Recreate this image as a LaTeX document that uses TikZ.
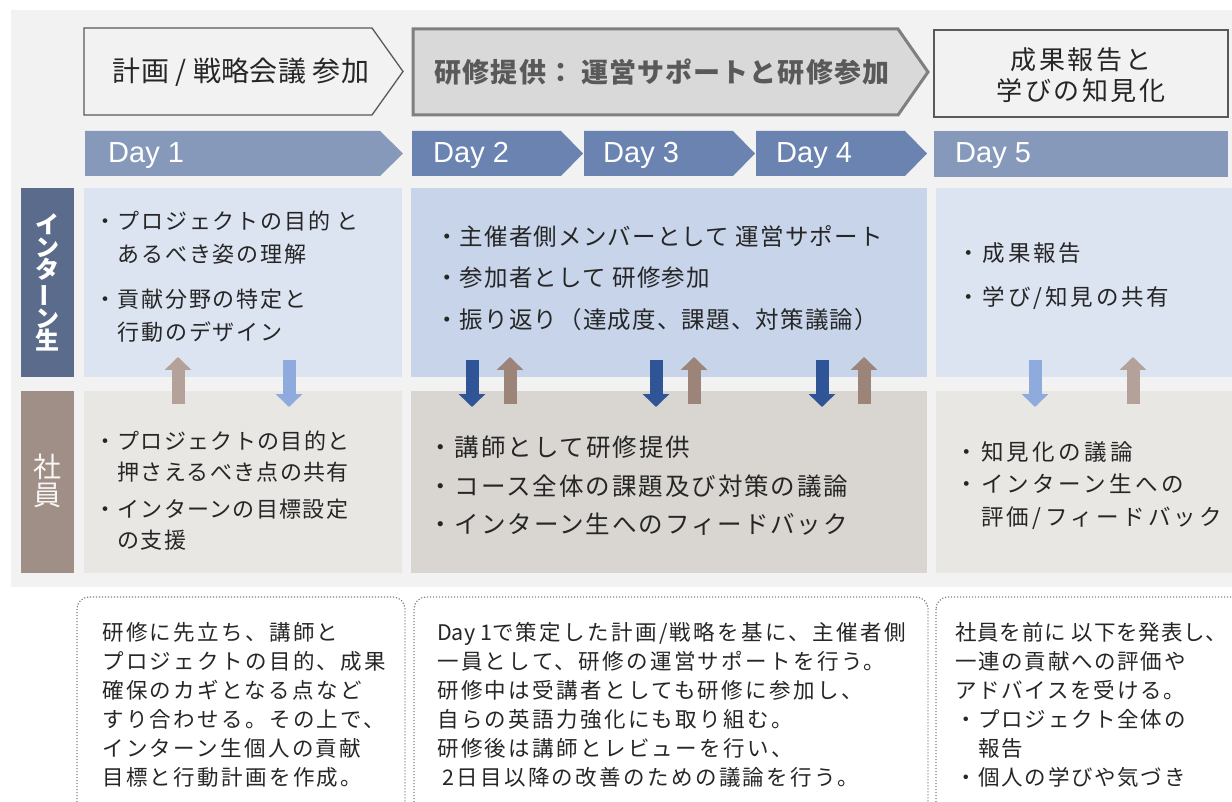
\documentclass[tikz,border=0pt]{standalone}
\usepackage{fontspec}
\usepackage{graphicx}
\usetikzlibrary{arrows.meta}
\newfontfamily\jp{Noto Sans CJK JP}
\newfontfamily\lat{Liberation Sans}
\newcommand{\jpf}[3]{\jp\fontsize{#1}{#2}\selectfont\addfontfeature{LetterSpace=#3}}
\definecolor{bggray}{HTML}{F2F2F2}
\definecolor{frame}{HTML}{595959}
\definecolor{frameb}{HTML}{7F7F7F}
\definecolor{hdfill}{HTML}{D9D9D9}
\definecolor{daylight}{HTML}{8699BB}
\definecolor{daydark}{HTML}{6A83B0}
\definecolor{internlab}{HTML}{5B6B8B}
\definecolor{stafflab}{HTML}{A08F87}
\definecolor{internlight}{HTML}{DCE4F1}
\definecolor{interndark}{HTML}{C7D4EA}
\definecolor{stafflight}{HTML}{E8E7E4}
\definecolor{staffdark}{HTML}{D9D6D2}
\definecolor{uplight}{HTML}{B4A199}
\definecolor{updark}{HTML}{9C8479}
\definecolor{downlight}{HTML}{8FAADC}
\definecolor{downdark}{HTML}{2F5597}
\definecolor{txt}{HTML}{262626}

\begin{document}
\begin{tikzpicture}[x=1pt, y=-1pt,
  body/.style={text=txt, align=left, inner sep=0pt, anchor=north west},
  daylabel/.style={text=white, inner sep=0pt, anchor=base west, font=\lat\fontsize{29}{29}\selectfont},
  blockarr/.style={line width=13pt, -{Triangle[width=26pt,length=13pt]}},
  memo/.style={draw=frameb, line width=1.2pt, dash pattern=on 1.2pt off 1.8pt, rounded corners=12pt}]

\useasboundingbox (0,0) rectangle (1232,802);
\clip (0,0) rectangle (1232,802);

% Hintergrund
\fill[bggray] (11,10) rectangle (1232,587);

% Phasen oben
\draw[frame, fill=bggray, line width=1.3pt] (84,28) -- (372,28) -- (403,71.5) -- (372,115) -- (84,115) -- cycle;
\draw[frameb, fill=hdfill, line width=3pt] (413,29) -- (898,29) -- (928,72) -- (898,115) -- (413,115) -- cycle;
\draw[frame, fill=bggray, line width=1.5pt] (934,30) rectangle (1228,117);
\node[font=\jpf{28}{28}{1}, text=txt] (ph1) at (241,72) {計画 / 戦略会議 参加};
\node[font=\jp\bfseries\fontsize{27}{27}\selectfont\addfontfeature{LetterSpace=4}, text=frame] (ph2) at (662,72) {研修提供： 運営サポートと研修参加};
\node[font=\jpf{26}{31}{10}, text=txt, align=center] (ph3) at (1081,75) {成果報告と\\学びの知見化};

% Tage
\fill[daylight] (85,131) -- (380,131) -- (403,153.5) -- (380,176) -- (85,176) -- cycle;
\fill[daydark] (412,131) -- (561,131) -- (583,153.5) -- (561,176) -- (412,176) -- cycle;
\fill[daydark] (584,131) -- (733,131) -- (755,153.5) -- (733,176) -- (584,176) -- cycle;
\fill[daydark] (756,131) -- (905,131) -- (927,153.5) -- (905,176) -- (756,176) -- cycle;
\fill[daylight] (934,131) rectangle (1228,177);
\foreach \x/\n in {108/1, 433/2, 603/3, 776/4, 955/5}
  \node[daylabel] (d\n) at (\x,163) {Day \n};

% Zeilen: Interns oben, Mitarbeiter unten
\fill[internlab] (21,188) rectangle (74,377);
\fill[stafflab] (21,391) rectangle (74,573);
\fill[internlight] (84,188) rectangle (402,377);
\fill[interndark] (411,188) rectangle (927,377);
\fill[internlight] (936,188) rectangle (1232,377);
\fill[stafflight] (84,391) rectangle (402,573);
\fill[staffdark] (411,391) rectangle (927,573);
\fill[stafflight] (936,391) rectangle (1232,573);

\node[font=\jp\bfseries\fontsize{24}{22.5}\selectfont, text=white, align=center, inner sep=0pt] (intern) at (47.5,282.5)
  {イ\\ン\\タ\\\rotatebox[origin=c]{90}{ー}\\ン\\生};
\node[font=\jpf{28}{28}{0}, text=white!92!stafflab, align=center, inner sep=0pt] (staff) at (47.5,481) {社\\員};

% Inhalte der Felder
\node[body, font=\jpf{22}{33}{8}] (i1) at (94,211) {・プロジェクトの目的 と\\　あるべき姿の理解\\[12pt]・貢献分野の特定と\\　行動のデザイン};
\node[body, font=\jpf{22}{31}{6}] (s1) at (94,431) {・プロジェクトの目的と\\　押さえるべき点の共有\\[6pt]・インターンの目標設定\\　の支援};
\node[body, font=\jpf{23.5}{41.5}{5}] (i2) at (435,225) {・主催者側メンバーとして 運営サポート\\・参加者として 研修参加\\・振り返り（達成度、課題、対策議論）};
\node[body, font=\jpf{24.5}{38.5}{8}] (s2) at (428,436) {・講師として研修提供\\・コース全体の課題及び対策の議論\\・インターン生へのフィードバック};
\node[body, font=\jpf{22.5}{44}{13}] (i3) at (957,242) {・成果報告\\・学び/知見の共有};
\node[body, font=\jpf{22.5}{32.5}{15}] (s3) at (955,441) {・知見化の議論\\・インターン生への\\　評価/フィードバック};

% Pfeile zwischen den Zeilen
\foreach \x/\c [count=\i] in {178/uplight, 510/updark, 694/updark, 864/updark, 1133/uplight} {
  \coordinate (ub\i) at (\x,404); \coordinate (ut\i) at (\x,357);
  \draw[blockarr, \c] (ub\i) -- (ut\i);
}
\foreach \x/\c [count=\i] in {289/downlight, 472/downdark, 656/downdark, 822/downdark, 1035/downlight} {
  \coordinate (dt\i) at (\x,360); \coordinate (db\i) at (\x,407);
  \draw[blockarr, \c] (dt\i) -- (db\i);
}

% Erlaeuterungen unten
\draw[memo] (77,597) rectangle (405,830);
\draw[memo] (414,597) rectangle (928,830);
\draw[memo] (936,597) rectangle (1250,830);
\node[body, font=\jpf{21.5}{29}{11}] (m1) at (102,622) {研修に先立ち、講師と\\プロジェクトの目的、成果\\確保のカギとなる点など\\すり合わせる。その上で、\\インターン生個人の貢献\\目標と行動計画を作成。};
\node[body, font=\jpf{21.5}{29}{11}] (m2) at (437,622) {{\addfontfeature{LetterSpace=0}Day 1}で策定した計画/戦略を基に、主催者側\\一員として、研修の運営サポートを行う。\\研修中は受講者としても研修に参加し、\\自らの英語力強化にも取り組む。\\研修後は講師とレビューを行い、\\\hspace{5pt}2日目以降の改善のための議論を行う。};
\node[body, font=\jpf{21.5}{29}{8}] (m3) at (955,622) {{\addfontfeature{LetterSpace=4}社員を前に 以下を発表し、}\\一連の貢献への評価や\\アドバイスを受ける。\\・プロジェクト全体の\\　報告\\・個人の学びや気づき};

\end{tikzpicture}
\end{document}
